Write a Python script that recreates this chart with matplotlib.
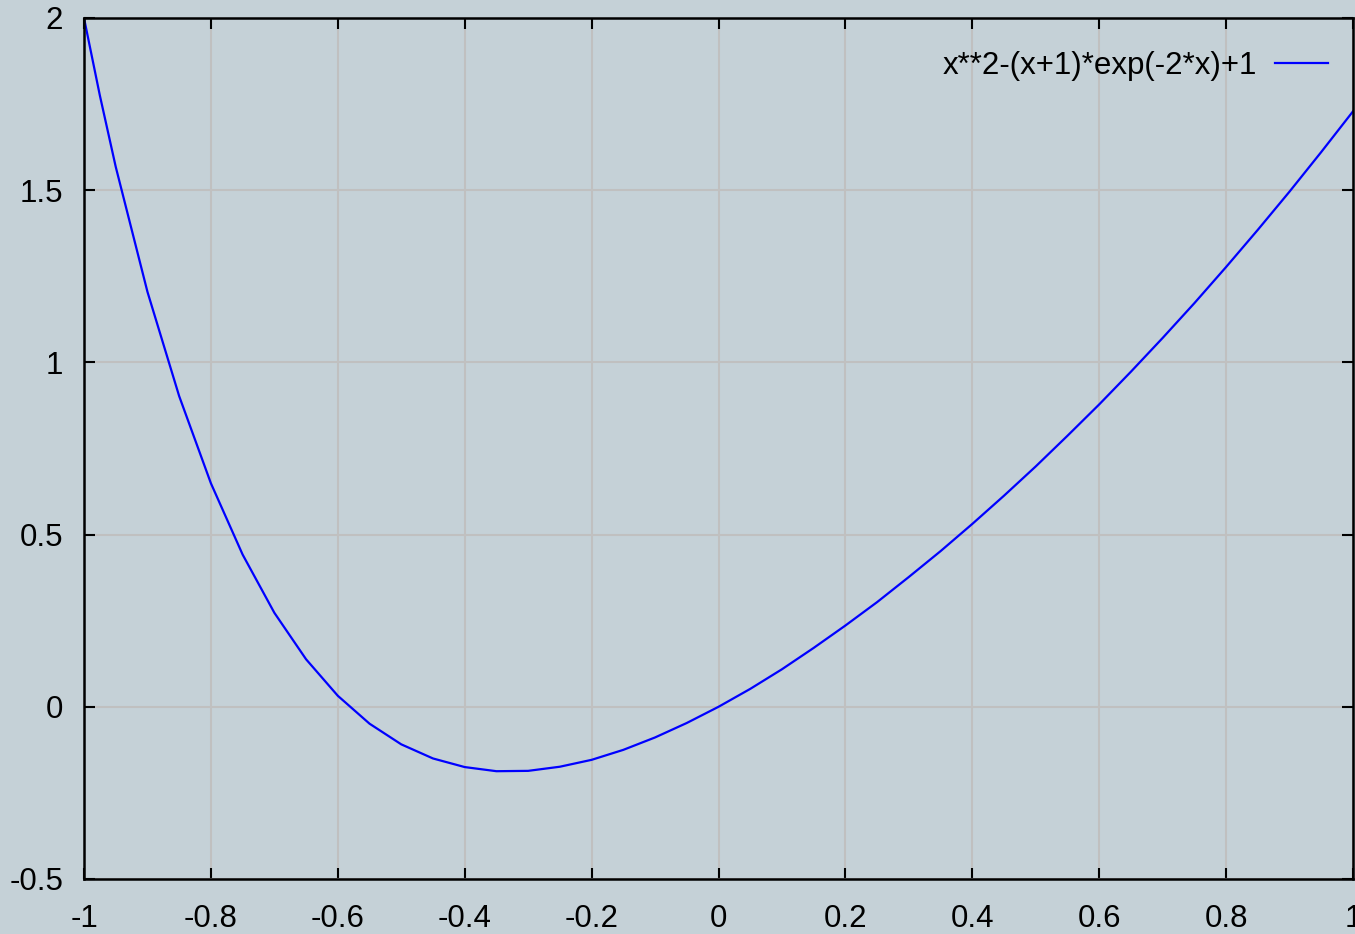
import numpy as np
import matplotlib
matplotlib.use("Agg")
import matplotlib.pyplot as plt

# values
x_vals = [-1.0, -0.975, -0.95, -0.9, -0.85, -0.8, -0.75, -0.7, -0.65, -0.6, -0.55,
          -0.5, -0.45, -0.4, -0.35, -0.3, -0.25, -0.2, -0.15, -0.1, -0.05,
          0.0, 0.05, 0.1, 0.15, 0.2, 0.25, 0.3, 0.35, 0.4, 0.45,
          0.5, 0.55, 0.6, 0.65, 0.7, 0.75, 0.8, 0.85, 0.9, 0.95, 1.0]
y_vals = [2.0, 1.775, 1.568, 1.205, 0.902, 0.649, 0.442, 0.273, 0.138, 0.032, -0.049,
          -0.109, -0.150, -0.175, -0.187, -0.186, -0.174, -0.154, -0.125, -0.089, -0.047,
          0.0, 0.052, 0.109, 0.171, 0.236, 0.304, 0.377, 0.452, 0.531, 0.613,
          0.698, 0.787, 0.878, 0.973, 1.071, 1.172, 1.277, 1.385, 1.496, 1.611, 1.729]
x_ticks = [-1, -0.8, -0.6, -0.4, -0.2, 0, 0.2, 0.4, 0.6, 0.8, 1]
x_labels = ["-1", "-0.8", "-0.6", "-0.4", "-0.2", "0", "0.2", "0.4", "0.6", "0.8", "1"]
y_ticks = [-0.5, 0, 0.5, 1, 1.5, 2]
y_labels = ["-0.5", "0", "0.5", "1", "1.5", "2"]
series_label = "x**2-(x+1)*exp(-2*x)+1"

bg = "#c5d1d7"
fs = 22.5
plt.rcParams["font.family"] = ["Liberation Sans", "DejaVu Sans"]

fig = plt.figure(figsize=(13.55, 9.34), dpi=100, facecolor=bg)
ax = fig.add_axes([84 / 1355, 1 - 879 / 934, (1353 - 84) / 1355, (879 - 18) / 934])
ax.set_facecolor(bg)

ax.plot(x_vals, y_vals, color="#0000ff", lw=1.6, label=series_label)

ax.set_xlim(-1, 1)
ax.set_ylim(-0.5, 2)
ax.set_xticks(x_ticks)
ax.set_xticklabels(x_labels)
ax.set_yticks(y_ticks)
ax.set_yticklabels(y_labels)
ax.grid(True, color="#c0c0c0", lw=1.5)
ax.set_axisbelow(True)
ax.tick_params(direction="in", length=8, width=1.5, top=True, right=True,
               labelsize=fs, colors="black")
ax.tick_params(axis="x", pad=18)
ax.tick_params(axis="y", pad=15)
for s in ax.spines.values():
    s.set_linewidth(1.8)
    s.set_color("black")

ax.legend(loc="upper right", bbox_to_anchor=(0.9803, 0.962), frameon=False,
          fontsize=fs, markerfirst=False, borderaxespad=0, borderpad=0,
          handlelength=1.7, handletextpad=0.58)

fig.savefig("out.png", dpi=100, facecolor=bg)
